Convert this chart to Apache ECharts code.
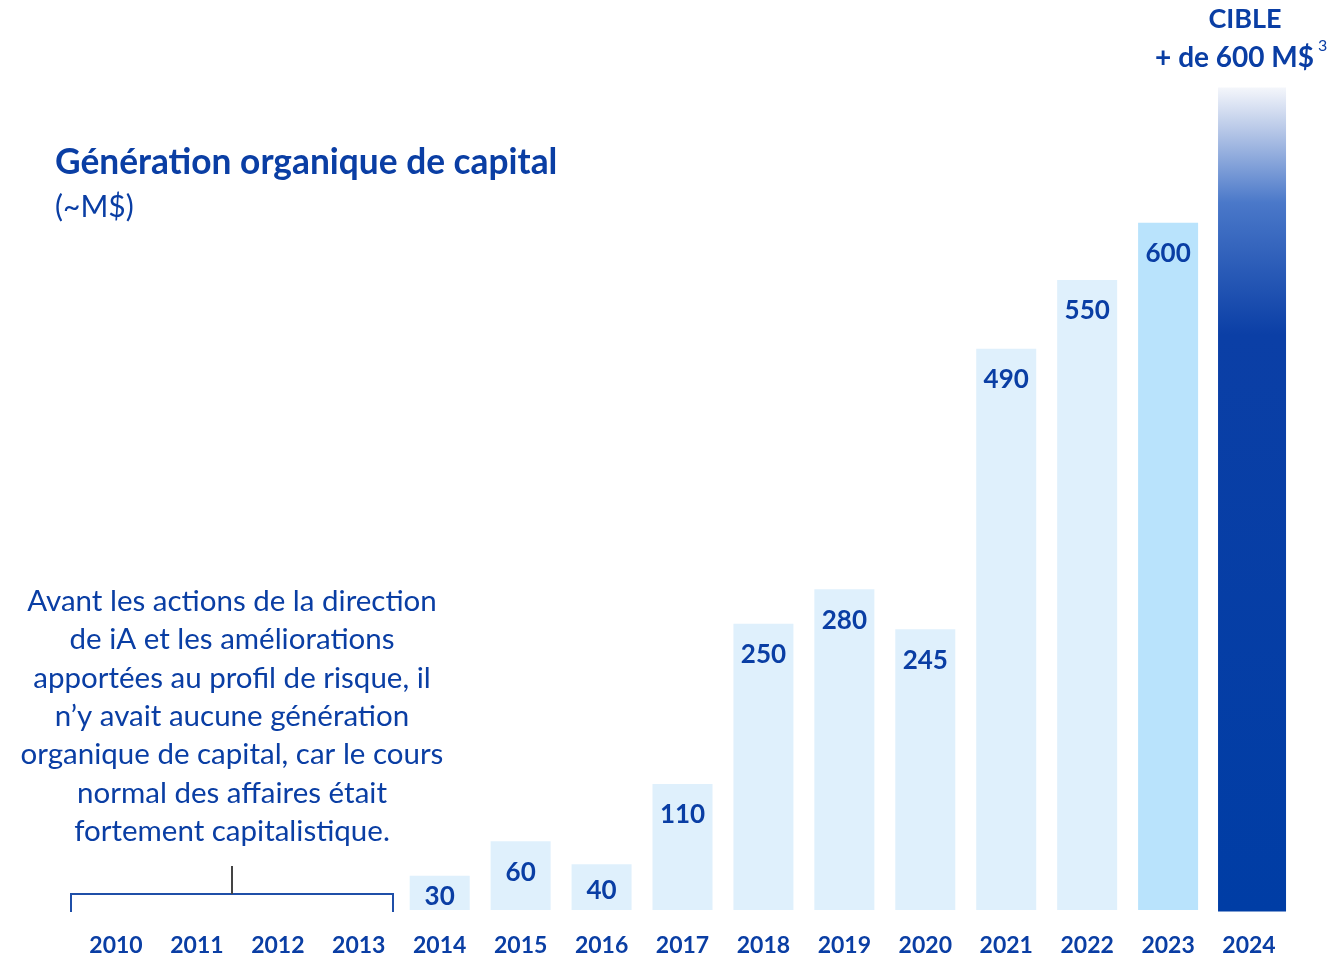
<!DOCTYPE html>
<html><head><meta charset="utf-8">
<script src="https://cdn.jsdelivr.net/npm/echarts@6/dist/echarts.min.js"></script>
<style>html,body{margin:0;padding:0;background:#fff}#c{width:1339px;height:957px}</style>
</head><body><div id="c"></div>
<script>
const years = ['2010','2011','2012','2013','2014','2015','2016','2017','2018','2019','2020','2021','2022','2023','2024'];
const values = [null,null,null,null,30,60,40,110,250,280,245,490,550,600,null];
const target2024 = 718;   // visual height of the 2024 target bar ("+ de 600 M$")
const highlightYear = '2023';

const BLUE = '#0a3ea4';
const FONT = 'Lato';
const chart = echarts.init(document.getElementById('c'));

const mainData = values.map((v, i) => {
  if (v === null) return '-';
  const item = { value: v, itemStyle: { color: years[i] === highlightYear ? '#b9e3fc' : '#dff0fc' } };
  if (v < 50) item.label = { position: 'inside', distance: 0, offset: [0, 4] };
  return item;
});
const targetData = years.map((y, i) => i === years.length - 1 ? target2024 : '-');

const xAxisBase = {
  type: 'category', data: years,
  axisLine: { show: false }, axisTick: { show: false },
  axisLabel: { color: BLUE, fontFamily: FONT, fontWeight: 'bold', fontSize: 23, margin: 24 }
};

chart.setOption({
  animation: false,
  grid: [
    { left: 75.5, right: 49.5, top: 85.3, bottom: 45.5, containLabel: false },
    { left: 78.5, right: 46.5, top: 85.3, bottom: 45.5, containLabel: false }
  ],
  xAxis: [
    Object.assign({ gridIndex: 0 }, xAxisBase),
    Object.assign({ gridIndex: 1 }, xAxisBase, { axisLabel: { show: false } })
  ],
  yAxis: [
    { gridIndex: 0, type: 'value', min: 0, max: 720, show: false, splitLine: { show: false } },
    { gridIndex: 1, type: 'value', min: 0, max: 720, show: false, splitLine: { show: false } }
  ],
  series: [
    {
      type: 'bar', xAxisIndex: 0, yAxisIndex: 0, data: mainData, barWidth: 60,
      label: { show: true, position: 'insideTop', distance: 18, color: BLUE, fontFamily: FONT, fontWeight: 'bold', fontSize: 26 }
    },
    {
      type: 'bar', xAxisIndex: 1, yAxisIndex: 1, data: targetData, barWidth: 68,
      itemStyle: {
        color: new echarts.graphic.LinearGradient(0, 0, 0, 1, [
          { offset: 0, color: '#f4f6fb' },
          { offset: 0.05, color: '#b9c9e8' },
          { offset: 0.14, color: '#4a78c9' },
          { offset: 0.30, color: '#0b3fa6' },
          { offset: 1, color: '#003da5' }
        ])
      },
      label: { show: false }
    }
  ],
  graphic: [
    { type: 'text', left: 55, top: 145, style: { text: 'Génération organique de capital', fill: BLUE, font: 'bold 35.3px ' + FONT } },
    { type: 'text', left: 55, top: 192, style: { text: '(~M$)', fill: BLUE, font: '30px ' + FONT } },
    { type: 'text', x: 1245, y: 6, style: { text: 'CIBLE', fill: BLUE, font: 'bold 27px ' + FONT, textAlign: 'center' } },
    { type: 'text', x: 1314, y: 44, style: { text: '+ de 600 M$', fill: BLUE, font: 'bold 28px ' + FONT, textAlign: 'right' } },
    { type: 'text', x: 1318, y: 38, style: { text: '3', fill: BLUE, font: '16px ' + FONT } },
    { type: 'text', x: 232, y: 582, style: {
        text: 'Avant les actions de la direction\nde iA et les améliorations\napportées au profil de risque, il\nn’y avait aucune génération\norganique de capital, car le cours\nnormal des affaires était\nfortement capitalistique.',
        fill: BLUE, font: '29.5px ' + FONT, textAlign: 'center', lineHeight: 38.4 } },
    { type: 'polyline', shape: { points: [[71, 912], [71, 894], [393, 894], [393, 912]] }, style: { stroke: '#1f4fa8', lineWidth: 2, fill: null } },
    { type: 'line', shape: { x1: 232, y1: 866, x2: 232, y2: 894 }, style: { stroke: '#444', lineWidth: 2 } }
  ]
});
</script></body></html>
